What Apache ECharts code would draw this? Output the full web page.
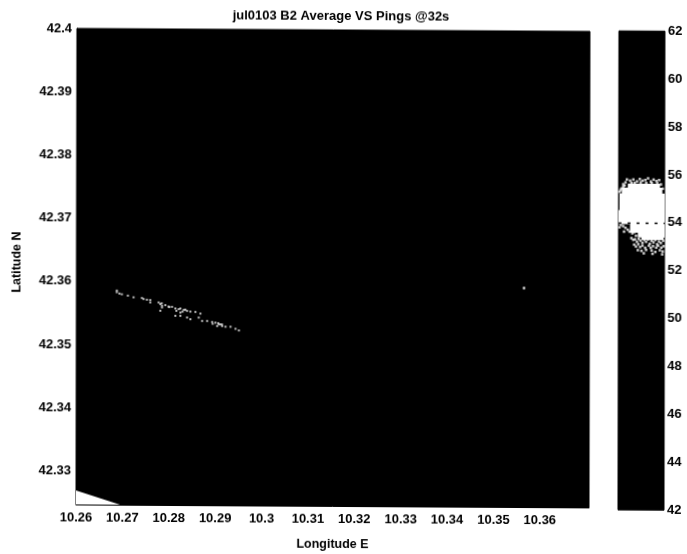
<!DOCTYPE html>
<html><head><meta charset="utf-8">
<style>html,body{margin:0;padding:0;background:#fff;overflow:hidden}
#c{width:687px;height:554px;transform-origin:0 0;transform:matrix(1,0.0058,-0.002,1,0,0)}</style>
<script src="https://cdn.jsdelivr.net/npm/echarts@6/dist/echarts.min.js"></script>
</head><body><div id="c"></div>
<script>
const titleText = 'jul0103 B2 Average VS Pings @32s';
const lonTicks = [10.26,10.27,10.28,10.29,10.3,10.31,10.32,10.33,10.34,10.35,10.36];
const latTicks = [42.33,42.34,42.35,42.36,42.37,42.38,42.39,42.4];
const lonRange = [10.26,10.3706];
const latRange = [42.3247,42.4];
const whiteCorner = [[10.26,42.3269],[10.2695,42.3247],[10.26,42.3247]];
const streak = [[10.26872,42.35857],[10.26872,42.35831],[10.26929,42.3581],[10.2698,42.35799],[10.2711,42.35778],[10.27233,42.35752],
[10.27413,42.35742],[10.27449,42.35726],[10.27521,42.35715],[10.27593,42.3571],[10.27593,42.35673],[10.27774,42.35673],[10.2781,42.35647],
[10.27846,42.35621],[10.27918,42.35631],[10.2799,42.3561],[10.28062,42.35605],[10.2781,42.35542],[10.27846,42.35594],[10.28156,42.35542],
[10.28207,42.35568],[10.28243,42.35515],[10.28315,42.35558],[10.28387,42.35542],[10.28459,42.35531],[10.28567,42.35526],[10.28675,42.355],
[10.28134,42.35463],[10.28243,42.35463],[10.28387,42.35437],[10.28459,42.3541],[10.28639,42.35437],[10.28712,42.35384],[10.2882,42.35384],
[10.28928,42.35368],[10.29,42.35358],[10.29072,42.35331],[10.29144,42.35305],[10.29217,42.35295],[10.29325,42.35295],[10.29433,42.35263],
[10.29505,42.35237],[10.29036,42.35305],[10.29108,42.35331],[10.28134,42.35579],[10.28243,42.35579],[10.28,42.356],[10.2784,42.3566],
[10.2829,42.3553],[10.2835,42.3556],[10.2894,42.3534],[10.2906,42.3535],[10.2914,42.3533],[10.3565,42.35942],[10.3565,42.35926]];
const cbarRange = [42,62];
const cbarLeft = [0.2,0.07,0.02,0,0.25,0.42,0.5];
const cbarRight = [0.9,0.95,1,1,1,1,0.98];
const cbarTop = [55.6,55.44,55.2,54.5,53.95,53.6,53.4];
const cbarBottom = [55.44,55.2,54.5,53.95,53.6,53.4,53.3];
const cbarSpeckle = [[0.18,55.8],[0.25,55.75],[0.32,55.8],[0.4,55.72],[0.46,55.82],[0.52,55.75],[0.58,55.78],[0.64,55.85],[0.7,55.72],[0.76,55.8],[0.82,55.74],[0.88,55.78],
[0.13,55.55],[0.1,55.6],[0.06,55.42],[0.04,55.35],[0.1,55.5],[0.15,55.68],[0.28,55.66],[0.92,55.6],[0.96,55.42],[0.02,55.28],[0.35,55.66],[0.48,55.68],[0.6,55.66],[0.72,55.66],[0.84,55.65],
[0.05,53.9],[0.1,53.85],[0.15,53.78],[0.02,53.8],[0.2,53.7],[0.24,53.62],[0.3,53.55],[0.34,53.6],[0.38,53.45],[0.12,53.62],
[0.28,53.35],[0.32,53.28],[0.36,53.3],[0.4,53.2],[0.44,53.32],[0.48,53.25],[0.52,53.15],[0.56,53.28],[0.6,53.2],[0.64,53.3],[0.68,53.12],[0.72,53.25],[0.76,53.18],[0.8,53.28],[0.84,53.1],[0.88,53.22],[0.92,53.15],[0.97,53.25],
[0.34,53.08],[0.38,53.0],[0.43,53.1],[0.47,52.98],[0.52,53.04],[0.58,52.95],[0.66,53.04],[0.7,52.95],[0.75,53.02],[0.82,52.96],[0.86,53.04],[0.93,52.96],[0.98,53.02],
[0.42,52.85],[0.5,52.82],[0.6,52.86],[0.72,52.84],[0.8,52.78],[0.9,52.85],[0.96,52.8],[0.55,52.72],[0.74,52.7],[0.95,52.68]];
const cbarLine = [[0,53.97],[1,53.97]];
const cbarLabels = 2;

const label = {color:'#000',fontFamily:'"Liberation Sans"',fontSize:13,fontWeight:'bold'};
const chart = echarts.init(document.getElementById('c'),null,{renderer:'canvas'});
chart.setOption({
  animation:false,
  backgroundColor:'#fff',
  title:{text:titleText,left:336,top:3,textAlign:'center',textStyle:{color:'#000',fontFamily:'"Liberation Sans"',fontSize:13,fontWeight:'bold'}},
  grid:[
    {left:77,top:28,width:513,height:477.5,show:true,backgroundColor:'#000',borderColor:'#000',borderWidth:1},
    {left:619,top:27.3,width:46,height:479,show:true,backgroundColor:'#000',borderColor:'#000',borderWidth:1}
  ],
  xAxis:[
    {gridIndex:0,type:'value',min:lonRange[0],max:lonRange[1],splitLine:{show:false},
     axisLine:{show:true,onZero:false,lineStyle:{color:'#000'}},
     axisTick:{show:false,customValues:lonTicks},
     axisLabel:{...label,margin:7,showMinLabel:true,showMaxLabel:true,customValues:lonTicks,formatter:v=>String(v)},
     name:'Longitude E',nameLocation:'middle',nameGap:32,nameTextStyle:{...label,fontSize:12.5}},
    {gridIndex:1,type:'value',min:0,max:1,show:false}
  ],
  yAxis:[
    {gridIndex:0,type:'value',min:latRange[0],max:latRange[1],splitLine:{show:false},
     axisLine:{show:true,onZero:false,lineStyle:{color:'#000'}},
     axisTick:{show:false,customValues:latTicks},
     axisLabel:{...label,margin:5,padding:[9,0,0,0],customValues:latTicks,formatter:v=>String(v)},
     name:'Latitude N',nameLocation:'middle',nameGap:53,nameTextStyle:{...label,fontSize:12.5,padding:[0,0,0,8]}},
    {gridIndex:1,type:'value',position:'right',min:cbarRange[0],max:cbarRange[1],interval:cbarLabels,splitLine:{show:false},
     axisLine:{show:false},axisTick:{show:false},
     axisLabel:{...label,margin:3,padding:[5,0,0,0]}}
  ],
  series:[
    {type:'custom',xAxisIndex:0,yAxisIndex:0,silent:true,data:[0],clip:true,
     renderItem:(p,api)=>({type:'polygon',shape:{points:whiteCorner.map(c=>api.coord(c))},style:{fill:'#fff'}})},
    {type:'scatter',xAxisIndex:0,yAxisIndex:0,data:streak,symbol:'rect',symbolSize:2,silent:true,itemStyle:{color:'#f0f0f0'}},
    {type:'custom',xAxisIndex:1,yAxisIndex:1,silent:true,data:cbarTop.map((t,i)=>[cbarLeft[i],t,cbarRight[i],cbarBottom[i]]),
     encode:{x:[0,2],y:[1,3]},
     renderItem:(p,api)=>{const a=api.coord([api.value(0),api.value(1)]),b=api.coord([api.value(2),api.value(3)]);
       return {type:'rect',shape:{x:a[0],y:a[1]-0.5,width:b[0]-a[0],height:b[1]-a[1]+1},style:{fill:'#fff'}};}},
    {type:'scatter',xAxisIndex:1,yAxisIndex:1,data:cbarSpeckle,symbol:'rect',symbolSize:2.5,silent:true,itemStyle:{color:'#fff'}},
    {type:'line',xAxisIndex:1,yAxisIndex:1,data:cbarLine,symbol:'none',silent:true,lineStyle:{color:'#000',width:1.5,type:[3,6]}}
  ]
});
</script></body></html>
